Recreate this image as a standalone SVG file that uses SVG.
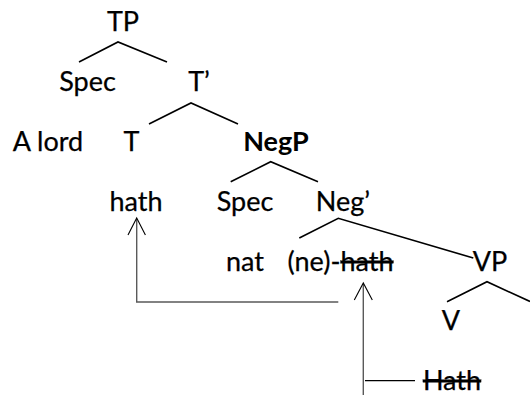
<svg xmlns="http://www.w3.org/2000/svg" width="530" height="397" viewBox="0 0 530 397">
<style>
text{font-family:Lato,"Liberation Sans",sans-serif;font-size:27px;fill:#000;text-anchor:middle;stroke:#000;stroke-width:0.25}
.b{font-weight:bold;stroke-width:0}
.s{text-decoration:line-through}
.tree{fill:none;stroke:#000;stroke-width:1.6}
.mv{fill:none;stroke:#5a5a5a;stroke-width:1.4}
.ah{fill:none;stroke:#000;stroke-width:1.1}
.th{fill:none;stroke:#000;stroke-width:1.2}
</style>
<rect width="530" height="397" fill="#fff"/>
<g id="edges">
<polyline class="tree" points="79,62 118,42 167,62"/>
<polyline class="tree" points="149,124 191,103 238,124"/>
<polyline class="tree" points="230.7,181.7 270.7,161.7 318,181.7"/>
<polyline class="tree" points="299.3,238 338.3,218.3 473.3,258"/>
<polyline class="tree" points="447,301.7 487,281.7 530,301.5"/>
</g>
<g id="connectors">
<polyline class="mv" points="338.3,302 136.7,302 136.7,219"/>
<polyline class="ah" points="128,235 136.7,218 145.4,235"/>
<line class="mv" x1="363.3" y1="395" x2="363.3" y2="284"/>
<polyline class="ah" points="354.3,300 363.3,283 372.3,300"/>
<line class="th" x1="365" y1="380.7" x2="415" y2="380.7"/>
</g>
<g id="n-TP"><text x="123" y="31">TP</text></g>
<g id="n-Spec1"><text x="87.5" y="91">Spec</text></g>
<g id="n-Tbar"><text x="199" y="91">T’</text></g>
<g id="n-Alord"><text x="48" y="151">A lord</text></g>
<g id="n-T"><text x="131.5" y="151">T</text></g>
<g id="n-NegP"><text class="b" x="276" y="151">NegP</text></g>
<g id="n-hath"><text x="136" y="211">hath</text></g>
<g id="n-Spec2"><text x="245" y="211">Spec</text></g>
<g id="n-Negbar"><text x="343" y="211">Neg’</text></g>
<g id="n-nat"><text x="245" y="271">nat</text></g>
<g id="n-ne"><text x="340.5" y="271">(ne)-<tspan class="s">hath</tspan></text></g>
<g id="n-VP"><text x="490" y="271">VP</text></g>
<g id="n-V"><text x="451" y="330">V</text></g>
<g id="n-Hath"><text class="s" x="452" y="390">Hath</text></g>
</svg>
